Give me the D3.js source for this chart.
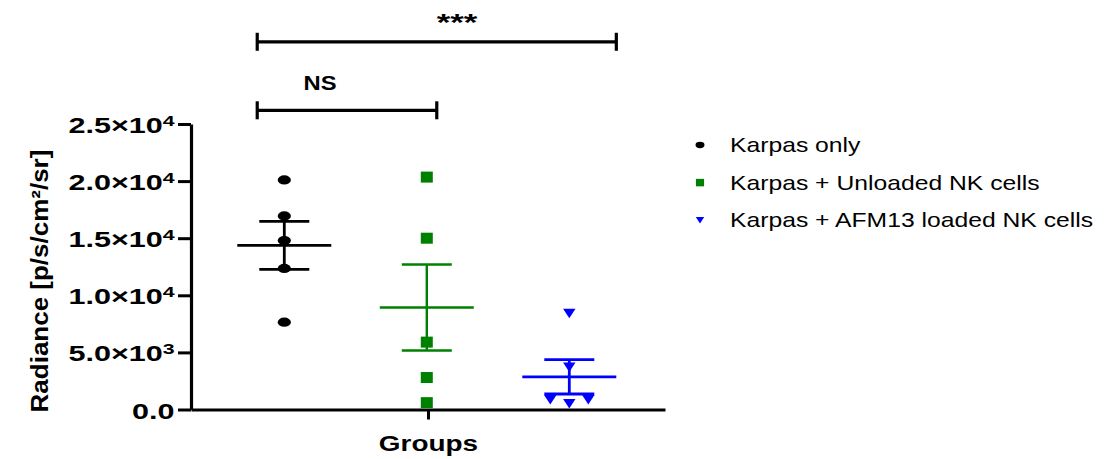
<!DOCTYPE html>
<html><head><meta charset="utf-8">
<script src="https://cdn.jsdelivr.net/npm/d3@7"></script>
<style>body{margin:0;background:#fff} svg{display:block} text{font-family:"Liberation Sans",Arial,sans-serif}</style>
</head><body><svg id="c" width="1115" height="459"></svg>
<script>
// ---- data ----
const groups = ["Karpas only", "Karpas + Unloaded NK cells", "Karpas + AFM13 loaded NK cells"];
const karpasOnly = [20100, 16950, 14800, 12350, 7650];
const unloadedNK = [20350, 15000, 5900, 2800, 600];
const afm13NK = [8400, 3700, 850, 850, 500];
const yTicks = [0, 5000, 10000, 15000, 20000, 25000];
const yTickMantissa = ["0.0", "5.0", "1.0", "1.5", "2.0", "2.5"];
const yTickExponent = ["", "3", "4", "4", "4", "4"];
const xCategory = ["Groups"];
const yTitle = "Radiance [p/s/cm\u00B2/sr]";
// significance brackets: extent in group-index units, height in data units
const bracketLabels = ["NS", "***"];
const bracketFrom = [-0.19, -0.19];
const bracketTo = [1.07, 2.33];
const bracketLevel = [26200, 32200];

const seriesValues = [karpasOnly, unloadedNK, afm13NK];
const colors = ["#000000", "#008000", "#0000ff"];
const shapes = ["circle", "square", "triangle"];

// ---- layout ----
const svg = d3.select("#c");
const axisX0 = 191, axisX1 = 665, axisY0 = 409.5, axisY1 = 124;
const y = d3.scaleLinear().domain([0, 25000]).range([axisY0, axisY1]);
const gx = d3.scaleLinear().domain([0, 2]).range([284.3, 569.3]);
const xCat = d3.scalePoint().domain(xCategory).range([axisX0, axisX1]).padding(0.5);
const FONT = '"Liberation Sans", Arial, sans-serif';

function marker(sel, shape, s) {
  if (shape === "circle") sel.append("ellipse").attr("rx", 6.6 * s).attr("ry", 4.6 * s);
  else if (shape === "square") sel.append("rect").attr("x", -6 * s).attr("y", -5.5 * s).attr("width", 12 * s).attr("height", 11 * s);
  else sel.append("path").attr("d", `M${-6.2 * s},${-4.8 * s}L${6.2 * s},${-4.8 * s}L0,${4.8 * s}Z`);
}

// ---- y axis ----
const yAxis = svg.append("g").attr("transform", `translate(${axisX0},0)`)
  .call(d3.axisLeft(y).tickValues(yTicks).tickSize(13).tickSizeOuter(0).tickFormat(""));
yAxis.select(".domain").attr("stroke", "#000").attr("stroke-width", 3.2);
yAxis.selectAll(".tick line").attr("stroke", "#000").attr("stroke-width", 3);
yAxis.selectAll(".tick text").each(function (d, i) {
  const t = d3.select(this).text(null).attr("x", null).attr("dy", null)
    .attr("transform", "translate(-16.5,8.5) scale(1.42,1)")
    .attr("font-family", FONT).attr("font-weight", "bold").attr("font-size", 21.5).attr("fill", "#000")
    .attr("text-anchor", "end");
  const idx = yTicks.indexOf(d);
  if (yTickExponent[idx] === "") {
    t.text(yTickMantissa[idx]);
  } else {
    t.append("tspan").text(yTickMantissa[idx] + "\u00D710");
    t.append("tspan").attr("font-size", 15).attr("dy", -7.5).text(yTickExponent[idx]);
  }
});

// ---- x axis ----
const xAxis = svg.append("g").attr("transform", `translate(0,${axisY0})`)
  .call(d3.axisBottom(xCat).tickSize(10).tickSizeOuter(0).tickFormat(""));
xAxis.select(".domain").attr("stroke", "#000").attr("stroke-width", 3.2);
xAxis.selectAll(".tick line").attr("stroke", "#000").attr("stroke-width", 3);
xAxis.selectAll(".tick text").attr("y", null).attr("dy", null)
  .attr("transform", "translate(0,41.2) scale(1.27,1)")
  .attr("font-family", FONT).attr("font-weight", "bold").attr("font-size", 22).attr("fill", "#000")
  .text(d => d);

// ---- y title ----
svg.append("text")
  .attr("transform", `translate(47.5,281) rotate(-90) scale(1.13,1)`)
  .attr("text-anchor", "middle").attr("font-family", FONT).attr("font-weight", "bold")
  .attr("font-size", 23).attr("fill", "#000").text(yTitle);

// ---- points (simple beeswarm) and mean ± SEM ----
seriesValues.forEach((vals, gi) => {
  const cx = gx(gi);
  const placed = [];
  const sorted = vals.slice().sort((a, b) => a - b);
  sorted.forEach(v => {
    const py = y(v);
    for (const k of [0, -1, 1, -2, 2, -3, 3]) {
      const px = cx + k * 19;
      if (!placed.some(q => Math.abs(q.x - px) < 13 && Math.abs(q.y - py) < 9)) { placed.push({ x: px, y: py }); break; }
    }
  });
  const g = svg.append("g").attr("fill", colors[gi]);
  placed.forEach(p => {
    const m = g.append("g").attr("transform", `translate(${p.x},${p.y})`);
    marker(m, shapes[gi], 1);
  });
  const mean = d3.mean(vals);
  const sem = d3.deviation(vals) / Math.sqrt(vals.length);
  const lw = gi === 1 ? 2.4 : 2.8;
  const eb = svg.append("g").attr("stroke", colors[gi]).attr("stroke-width", lw);
  eb.append("line").attr("x1", cx - 47).attr("x2", cx + 47).attr("y1", y(mean)).attr("y2", y(mean));
  eb.append("line").attr("x1", cx).attr("x2", cx).attr("y1", y(mean + sem)).attr("y2", y(mean - sem));
  [mean + sem, mean - sem].forEach(v =>
    eb.append("line").attr("x1", cx - 25).attr("x2", cx + 25).attr("y1", y(v)).attr("y2", y(v)));
});

// ---- significance brackets ----
bracketLabels.forEach((lab, i) => {
  const x1 = gx(bracketFrom[i]), x2 = gx(bracketTo[i]), yy = y(bracketLevel[i]);
  const g = svg.append("g").attr("stroke", "#000").attr("stroke-width", 3.2);
  g.append("line").attr("x1", x1).attr("x2", x2).attr("y1", yy).attr("y2", yy);
  [x1, x2].forEach(xx => g.append("line").attr("x1", xx).attr("x2", xx).attr("y1", yy - 9).attr("y2", yy + 9));
});
// labels
svg.append("text").attr("transform", `translate(320,90) scale(1.22,1)`).attr("text-anchor", "middle")
  .attr("font-family", FONT).attr("font-weight", "bold").attr("font-size", 19.5).attr("fill", "#000").text(bracketLabels[0]);
svg.append("text").attr("transform", `translate(457,31) scale(1.45,1)`).attr("text-anchor", "middle")
  .attr("font-family", FONT).attr("font-weight", "bold").attr("font-size", 24).attr("fill", "#000").text(bracketLabels[1]);

// ---- legend ----
const legend = svg.append("g");
groups.forEach((name, i) => {
  const ly = 145 + i * 37.6;
  const m = legend.append("g").attr("transform", `translate(700,${ly})`).attr("fill", colors[i]);
  marker(m, shapes[i], 0.68);
  legend.append("text").attr("transform", `translate(730,${ly + 7}) scale(1.235,1)`)
    .attr("font-family", FONT).attr("font-size", 20).attr("fill", "#000").text(name);
});
</script></body></html>
